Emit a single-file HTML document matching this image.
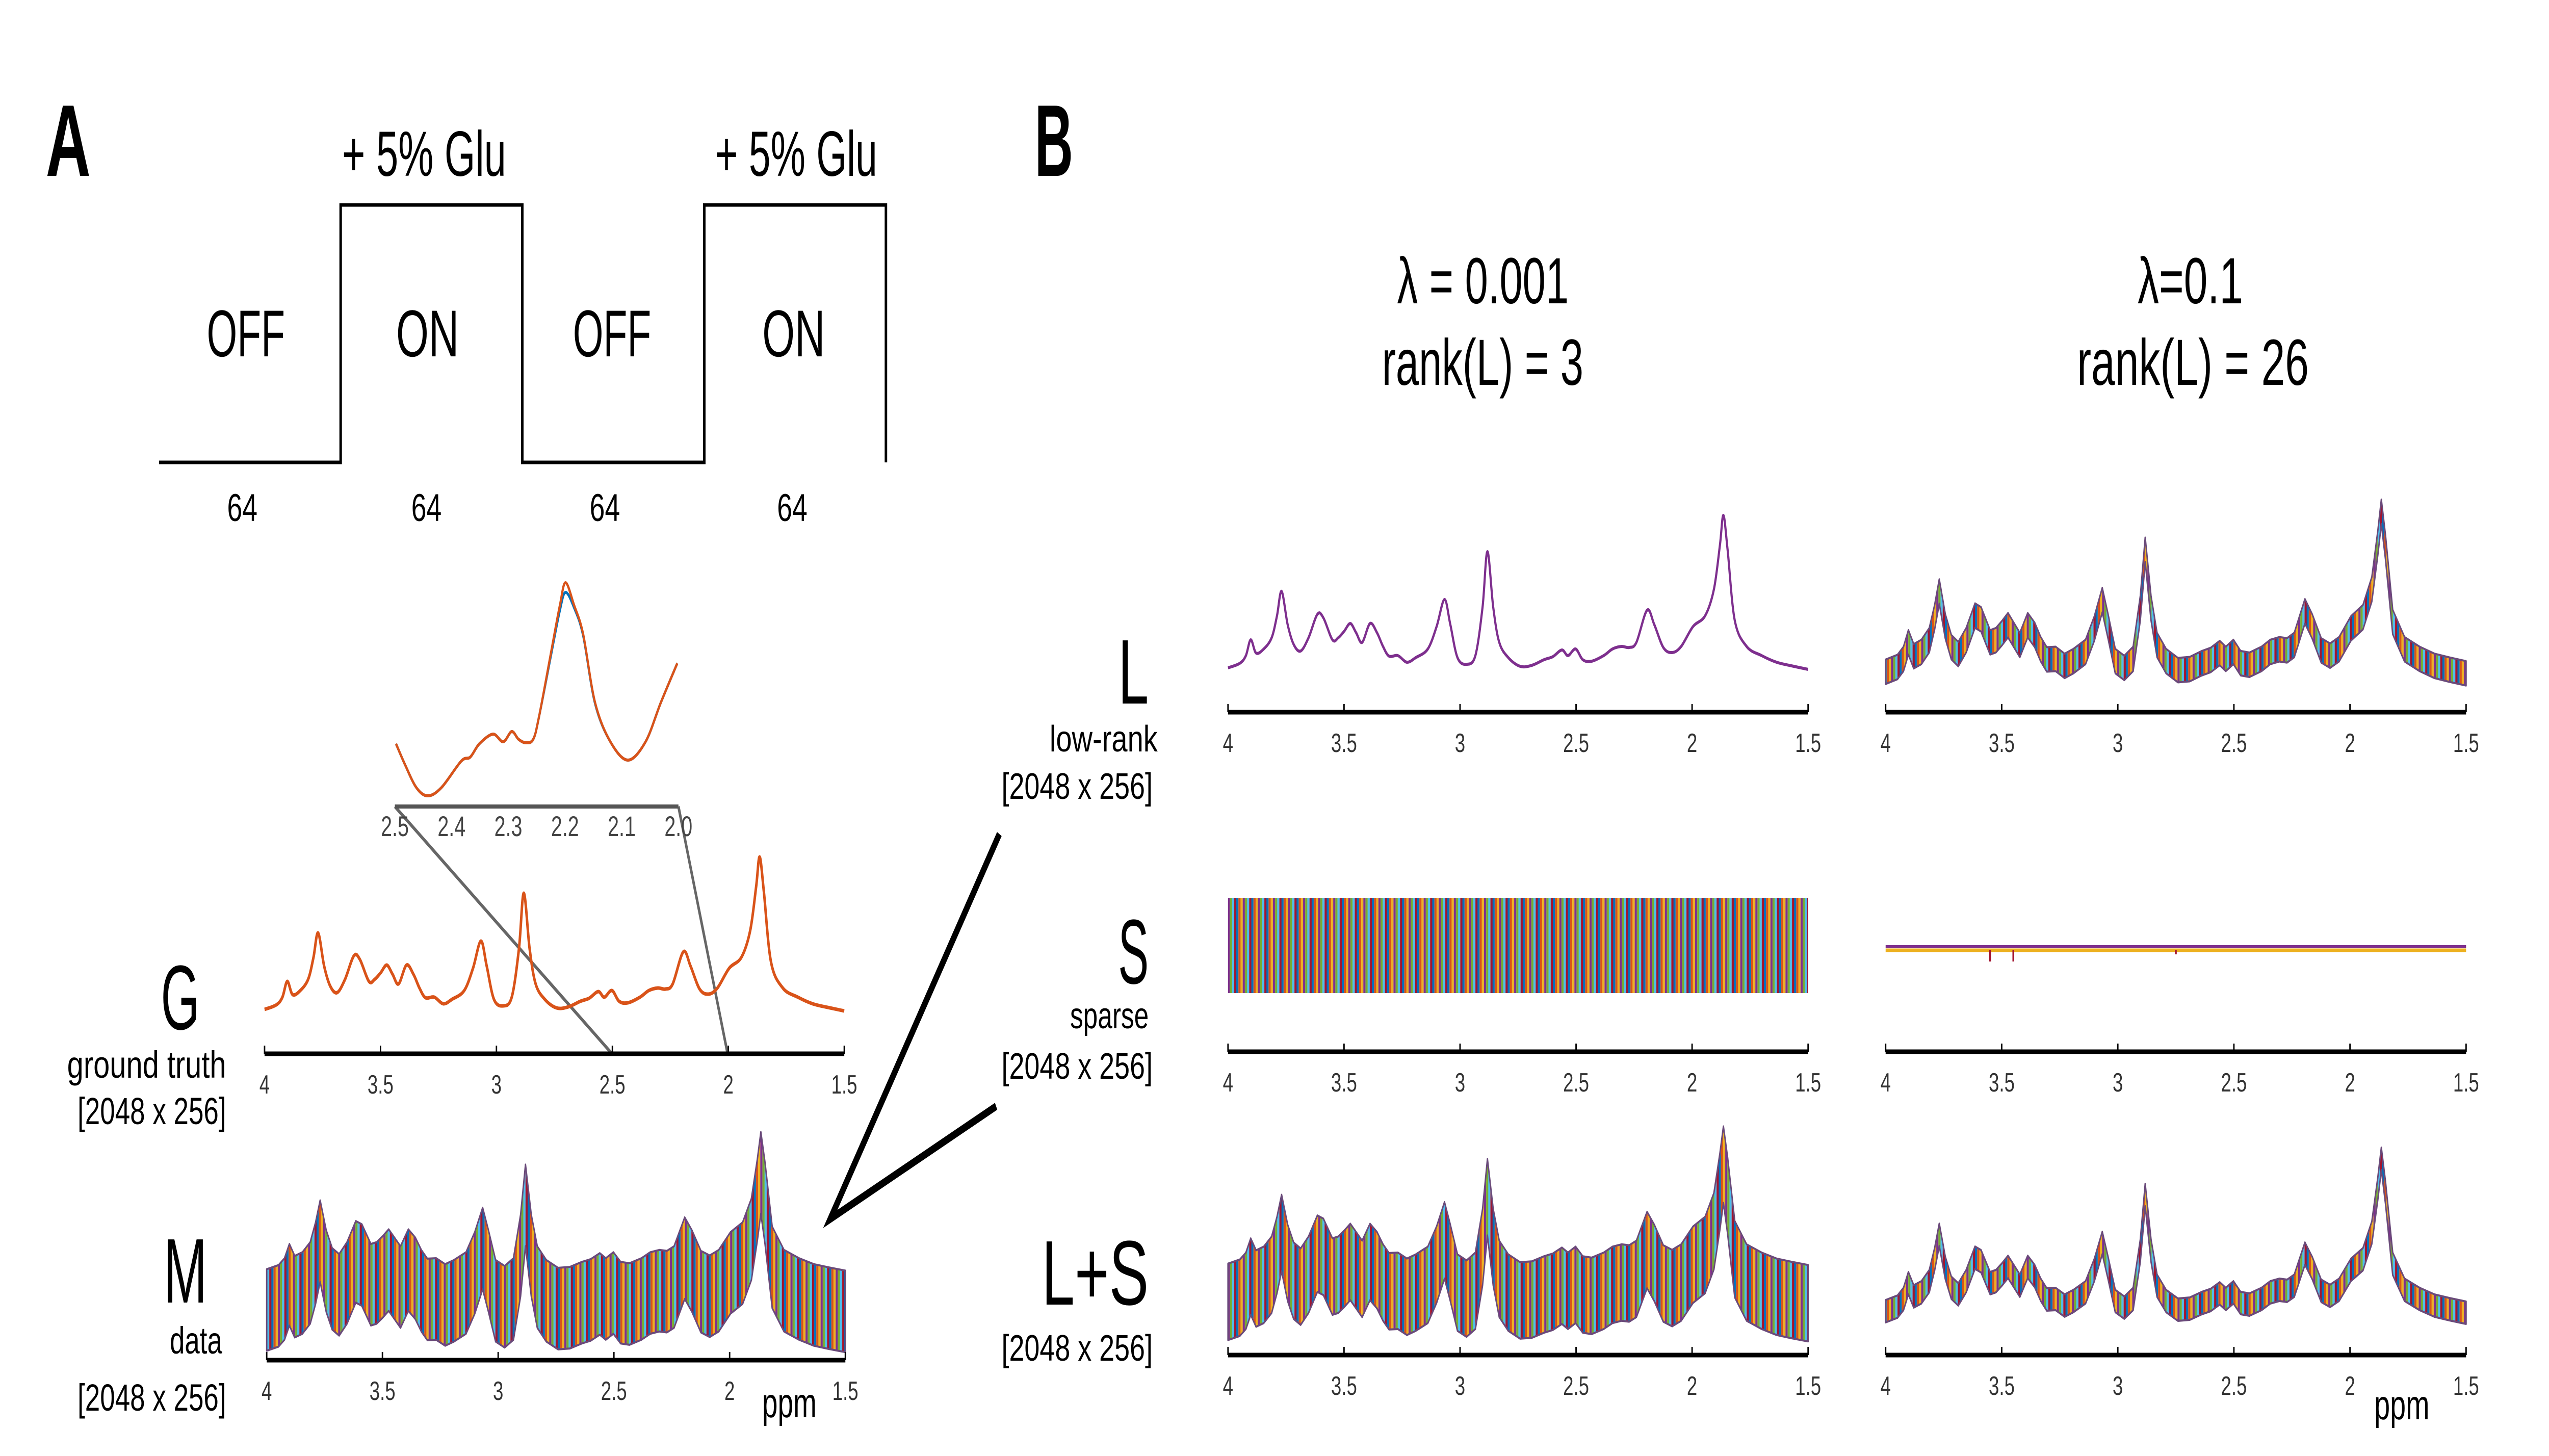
<!DOCTYPE html>
<html><head><meta charset="utf-8"><style>
html,body{margin:0;padding:0;background:#fff;overflow:hidden;width:100%;height:100%}
svg{display:block;font-family:"Liberation Sans",sans-serif;width:100vw;height:100vh}
</style></head><body>
<svg id="fig" viewBox="0 0 7101 2856" preserveAspectRatio="none" xmlns="http://www.w3.org/2000/svg">
<defs>
<pattern id="noise" patternUnits="userSpaceOnUse" width="42" height="60">
<rect x="0" y="0" width="6" height="60" fill="#0072BD"/>
<rect x="6" y="0" width="6" height="60" fill="#D95319"/>
<rect x="12" y="0" width="6" height="60" fill="#EDB120"/>
<rect x="18" y="0" width="6" height="60" fill="#7E2F8E"/>
<rect x="24" y="0" width="6" height="60" fill="#77AC30"/>
<rect x="30" y="0" width="6" height="60" fill="#4DBEEE"/>
<rect x="36" y="0" width="6" height="60" fill="#A2142F"/>
</pattern>
</defs>
<!-- Panel letters -->
<text x="190" y="345" font-size="200" font-weight="bold" text-anchor="middle" textLength="125" lengthAdjust="spacingAndGlyphs">A</text>
<text x="2936" y="345" font-size="200" font-weight="bold" text-anchor="middle" textLength="107" lengthAdjust="spacingAndGlyphs">B</text>
<!-- Block design -->
<polyline points="443,907 949,907 949,402 1455,402 1455,907 1962,907 1962,402 2468,402 2468,907" fill="none" stroke="#000" stroke-width="7"/>
<text x="953" y="345" font-size="125" textLength="457" lengthAdjust="spacingAndGlyphs">+ 5% Glu</text>
<text x="1992" y="345" font-size="125" textLength="452" lengthAdjust="spacingAndGlyphs">+ 5% Glu</text>
<g font-size="130" text-anchor="middle">
<text x="685" y="699" textLength="218" lengthAdjust="spacingAndGlyphs">OFF</text>
<text x="1191" y="699" textLength="175" lengthAdjust="spacingAndGlyphs">ON</text>
<text x="1705" y="699" textLength="218" lengthAdjust="spacingAndGlyphs">OFF</text>
<text x="2211" y="699" textLength="175" lengthAdjust="spacingAndGlyphs">ON</text>
</g>
<g font-size="76" text-anchor="middle">
<text x="675" y="1022">64</text>
<text x="1188" y="1022">64</text>
<text x="1685" y="1022">64</text>
<text x="2207" y="1022">64</text>
</g>
<!-- Titles -->
<text x="3892" y="595" font-size="128" textLength="478" lengthAdjust="spacingAndGlyphs">λ = 0.001</text>
<text x="3850" y="755" font-size="128" textLength="561" lengthAdjust="spacingAndGlyphs">rank(L) = 3</text>
<text x="5955" y="595" font-size="128" textLength="294" lengthAdjust="spacingAndGlyphs">λ=0.1</text>
<text x="5786" y="755" font-size="128" textLength="646" lengthAdjust="spacingAndGlyphs">rank(L) = 26</text>
<!-- Row labels -->
<g text-anchor="end">
<text x="556" y="2019" font-size="180" textLength="108" lengthAdjust="spacingAndGlyphs">G</text>
<text x="630" y="2114" font-size="74" textLength="443" lengthAdjust="spacingAndGlyphs">ground truth</text>
<text x="630" y="2205" font-size="74" textLength="414" lengthAdjust="spacingAndGlyphs">[2048 x 256]</text>
<text x="577" y="2555" font-size="180" textLength="121" lengthAdjust="spacingAndGlyphs">M</text>
<text x="619" y="2655" font-size="74" textLength="146" lengthAdjust="spacingAndGlyphs">data</text>
<text x="630" y="2767" font-size="74" textLength="414" lengthAdjust="spacingAndGlyphs">[2048 x 256]</text>
<text x="3200" y="1380" font-size="180" textLength="85" lengthAdjust="spacingAndGlyphs">L</text>
<text x="3225" y="1474" font-size="72" textLength="301" lengthAdjust="spacingAndGlyphs">low-rank</text>
<text x="3211" y="1567" font-size="72" textLength="421" lengthAdjust="spacingAndGlyphs">[2048 x 256]</text>
<text x="3200" y="1929" font-size="180" textLength="85" lengthAdjust="spacingAndGlyphs">S</text>
<text x="3200" y="2017" font-size="72" textLength="219" lengthAdjust="spacingAndGlyphs">sparse</text>
<text x="3211" y="2116" font-size="72" textLength="421" lengthAdjust="spacingAndGlyphs">[2048 x 256]</text>
<text x="3200" y="2559" font-size="180" textLength="298" lengthAdjust="spacingAndGlyphs">L+S</text>
<text x="3211" y="2669" font-size="72" textLength="421" lengthAdjust="spacingAndGlyphs">[2048 x 256]</text>
</g>
<text x="2123" y="2780" font-size="82" textLength="152" lengthAdjust="spacingAndGlyphs">ppm</text>
<text x="6614" y="2784" font-size="82" textLength="154" lengthAdjust="spacingAndGlyphs">ppm</text>
<!-- Connectors -->
<line x1="1100" y1="1582" x2="1705" y2="2067" stroke="#666" stroke-width="7"/>
<line x1="1890" y1="1582" x2="2027" y2="2067" stroke="#666" stroke-width="7"/>
<polyline points="2784,1636 2313,2391 2775,2170" fill="none" stroke="#000" stroke-width="15" stroke-linejoin="miter"/>
<g id="plots"></g>
</svg>
<script>
const specPpm = [4.000,3.949,3.923,3.902,3.879,3.846,3.812,3.789,3.769,3.743,3.717,3.687,3.653,3.615,3.589,3.550,3.525,3.499,3.473,3.448,3.422,3.388,3.358,3.332,3.306,3.268,3.229,3.191,3.139,3.101,3.067,3.042,3.011,2.972,2.934,2.903,2.882,2.857,2.831,2.792,2.741,2.690,2.638,2.600,2.561,2.535,2.502,2.471,2.433,2.381,2.343,2.304,2.271,2.240,2.194,2.163,2.124,2.086,2.047,1.996,1.944,1.906,1.880,1.865,1.847,1.816,1.765,1.700,1.636,1.572,1.500];
const specAmp = [6,15,30,61,35,43,65,108,156,91,52,39,65,111,104,61,65,78,93,75,56,93,75,48,29,30,17,26,43,87,140,91,26,13,30,125,234,125,56,26,9,11,22,28,41,30,43,22,19,30,43,48,46,56,119,91,46,36,48,87,108,160,247,305,238,99,48,30,17,10,3];
// Inset (2.5–2.0 ppm) traces
const insetPpm = [2.498,2.482,2.462,2.442,2.418,2.383,2.367,2.351,2.327,2.309,2.294,2.282,2.269,2.256,2.246,2.225,2.209,2.199,2.184,2.168,2.147,2.120,2.089,2.058,2.031,2.002];
const insetOrange = [123,82,37,21,37,89,97,123,142,127,147,132,125,132,175,300,395,439,395,338,204,127,91,127,204,281];
const insetBlue = [123,82,37,21,37,89,97,123,142,127,147,132,125,132,175,295,385,420,390,335,202,127,91,127,204,281];
const insetTicks = ["2.5","2.4","2.3","2.2","2.1","2.0"];
const tickValues = [4,3.5,3,2.5,2,1.5];
const tickLabels = ["4","3.5","3","2.5","2","1.5"];
// Sparse component (lambda = 0.1) small dips
const sparseDipPpm = [3.55,3.45,2.75];
const sparseDipAmp = [22,22,8];

const NS="http://www.w3.org/2000/svg";
const root=document.getElementById('plots');
function el(tag,attrs,parent){const e=document.createElementNS(NS,tag);for(const k in attrs)e.setAttribute(k,attrs[k]);(parent||root).appendChild(e);return e;}
function xs(x0,x1,lo,hi){return p=>x0+(hi-p)/(hi-lo)*(x1-x0);}
function smooth(pts){
  let d='M'+pts[0][0].toFixed(1)+','+pts[0][1].toFixed(1);
  for(let i=0;i<pts.length-1;i++){
    const p0=pts[Math.max(0,i-1)],p1=pts[i],p2=pts[i+1],p3=pts[Math.min(pts.length-1,i+2)];
    const c1x=p1[0]+(p2[0]-p0[0])/6,c1y=p1[1]+(p2[1]-p0[1])/6;
    const c2x=p2[0]-(p3[0]-p1[0])/6,c2y=p2[1]-(p3[1]-p1[1])/6;
    d+=' C'+c1x.toFixed(1)+','+c1y.toFixed(1)+' '+c2x.toFixed(1)+','+c2y.toFixed(1)+' '+p2[0].toFixed(1)+','+p2[1].toFixed(1);
  }
  return d;
}

function axis(name,x0,x1,y){
  const g=el('g',{});
  
  
  const sx=xs(x0,x1,1.5,4);
  el('line',{x1:x0,y1:y,x2:x1,y2:y,stroke:'#000','stroke-width':9},g);
  tickValues.forEach((v,i)=>{
    const x=sx(v);
    const t=el('line',{x1:x,y1:y,x2:x,y2:y-16,stroke:'#000','stroke-width':4},g);
    
    
    const lb=el('text',{x:x,y:y+78,'font-size':52,fill:'#333','text-anchor':'middle'},g);
    lb.textContent=tickLabels[i];
    
    
  });
}
function line(name,x0,x1,base,k,color,w){
  const sx=xs(x0,x1,1.5,4);
  const pts=specPpm.map((p,i)=>[sx(p),base-k*specAmp[i]]);
  const pl=el('path',{d:smooth(pts),fill:'none',stroke:color,'stroke-width':w,'stroke-linejoin':'round'});
  
  
}
function band(name,x0,x1,top,bot,k){
  const sx=xs(x0,x1,1.5,4);
  const up=specPpm.map((p,i)=>sx(p).toFixed(1)+','+(top-k*specAmp[i]).toFixed(1));
  const dn=specPpm.map((p,i)=>sx(p).toFixed(1)+','+(bot-k*specAmp[i]).toFixed(1)).reverse();
  const pg=el('polygon',{points:up.concat(dn).join(' '),fill:'url(#noise)','stroke':'#6a4a7a','stroke-width':4,'stroke-linejoin':'round'});
  
  
}

// Panel A: ground truth G
line('g-spectrum',737,2352,1986,1,'#D95319',7);
axis('g',737,2352,2067);
// Inset
(function(){
  const sx=xs(1100,1890,2.0,2.5);
  const ax=el('line',{x1:1100,y1:1582,x2:1890,y2:1582,stroke:'#555','stroke-width':8});
  
  
  insetTicks.forEach((t,i)=>{
    const v=parseFloat(t);
    const lb=el('text',{x:sx(v),y:1640,'font-size':56,fill:'#444','text-anchor':'middle'});
    lb.textContent=t;
    
    
  });
  const pb=el('path',{d:smooth(insetPpm.map((p,i)=>[sx(p),1582-insetBlue[i]])),fill:'none',stroke:'#0072BD','stroke-width':6});
  
  
  const po=el('path',{d:smooth(insetPpm.map((p,i)=>[sx(p),1582-insetOrange[i]])),fill:'none',stroke:'#D95319','stroke-width':6});
  
  
})();
// Panel A: data M
band('m-noisy-spectra',743,2355,2495,2655,0.9);
axis('m',743,2355,2668);

// Panel B left column (lambda=0.001)
line('l-lowrank-spectrum-left',3421,5037,1316,1,'#7E2F8E',6);
axis('l-left',3421,5037,1397);
(function(){
  const r=el('rect',{x:3421,y:1761,width:1616,height:187,fill:'url(#noise)'});
  
  
})();
axis('s-left',3421,5037,2063);
band('ls-spectra-left',3421,5037,2484,2634,0.9);
axis('ls-left',3421,5037,2658);

// Panel B right column (lambda=0.1)
band('l-lowrank-spectra-right',5253,6870,1300,1348,1.05);
axis('l-right',5253,6870,1397);
(function(){
  const sx=xs(5253,6870,1.5,4);
  const a=el('line',{x1:5253,y1:1857,x2:6870,y2:1857,stroke:'#7E2F8E','stroke-width':6});
  
  
  const b=el('line',{x1:5253,y1:1864,x2:6870,y2:1864,stroke:'#EDB120','stroke-width':7});
  
  
  sparseDipPpm.forEach((p,i)=>{
    const d=el('line',{x1:sx(p),y1:1864,x2:sx(p),y2:1864+sparseDipAmp[i],stroke:'#A2142F','stroke-width':5});
    
    
  });
})();
axis('s-right',5253,6870,2063);
band('ls-spectra-right',5253,6870,2556,2600,1.0);
axis('ls-right',5253,6870,2658);
</script>
</body></html>
